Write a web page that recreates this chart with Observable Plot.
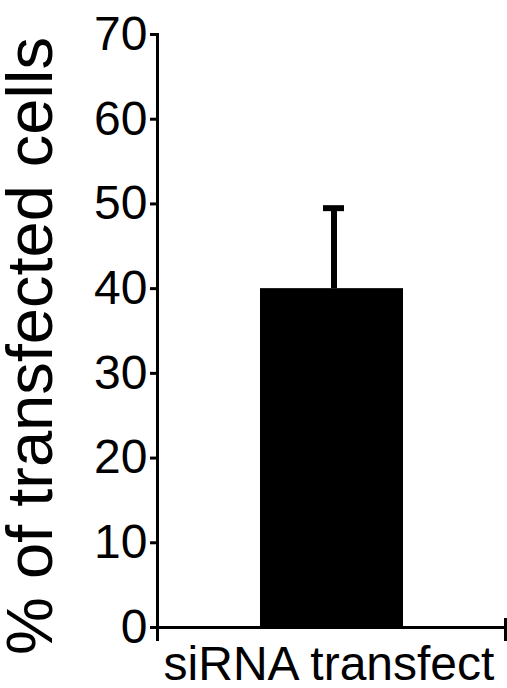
<!DOCTYPE html>
<html>
<head>
<meta charset="utf-8">
<script src="https://cdn.jsdelivr.net/npm/d3@7"></script>
<script src="https://cdn.jsdelivr.net/npm/@observablehq/plot@0.6"></script>
<style>
  html, body { margin: 0; padding: 0; background: #fff; }
  #chart svg { display: block; }
</style>
</head>
<body>
<div id="chart"></div>
<script>
const categories = ["siRNA transfect"];
const means = [40];
const errors = [9.5];
const yTicks = [0, 10, 20, 30, 40, 50, 60, 70];
const yLabel = "% of transfected cells";

const data = categories.map((c, i) => ({cat: c, mean: means[i], err: errors[i], top: means[i] + errors[i]}));

const W = 507, H = 688;
const mT = 34, mB = 61, mL = 157, mR = 2;
const font = "'Liberation Sans', Arial, Helvetica, sans-serif";
const axisW = 3;

const chart = Plot.plot({
  width: W,
  height: H,
  marginTop: mT,
  marginBottom: mB,
  marginLeft: mL,
  marginRight: mR,
  style: {fontFamily: font, background: "#fff", color: "#000", overflow: "visible"},
  x: {domain: categories, padding: 0.417, label: null},
  y: {domain: [0, 70], label: null},
  marks: [
    Plot.barY(data, {x: "cat", y: "mean", fill: "#000"}),
    Plot.ruleX(data, {x: "cat", y1: "mean", y2: "top", stroke: "#000", strokeWidth: 6, dx: 2}),
    Plot.tickY(data, {x: "cat", y: "top", stroke: "#000", strokeWidth: 6, insetLeft: 63, insetRight: 59}),
    Plot.ruleY([0], {stroke: "#000", strokeWidth: axisW}),
    Plot.frame({anchor: "left", stroke: "#000", strokeWidth: axisW, insetBottom: -12}),
    Plot.frame({anchor: "right", stroke: "#000", strokeWidth: axisW, insetTop: H - mT - mB - 8, insetBottom: -12}),
    Plot.axisY({ticks: yTicks, tickSize: 7, tickPadding: 3, tickFormat: d => String(d), fontSize: 48, strokeWidth: axisW, label: null}),
    Plot.axisX({tickSize: 0, tickPadding: 18, fontSize: 48, dx: -3, label: null}),
    Plot.text([yLabel], {text: d => d, frameAnchor: "left", rotate: -90, dx: -126, dy: 15, fontSize: 65, textAnchor: "middle", lineAnchor: "middle", fill: "#000"})
  ]
});
document.getElementById("chart").appendChild(chart);
</script>
</body>
</html>
